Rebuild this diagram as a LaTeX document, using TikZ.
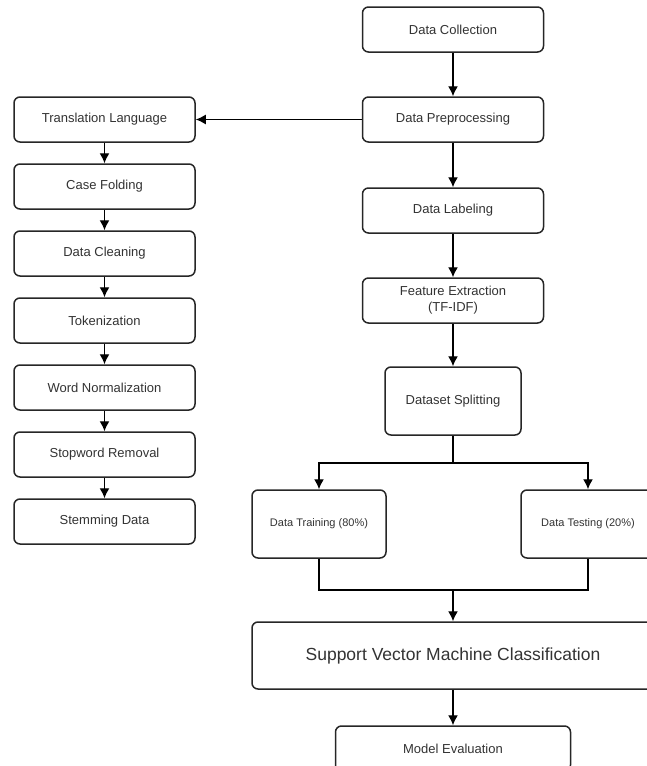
\documentclass[tikz,border=0pt]{standalone}
\usepackage{fontspec}
\setmainfont{Liberation Sans}
\usepackage{tikz}
\usetikzlibrary{arrows.meta, positioning}

\begin{document}
\begin{tikzpicture}[
  x=1pt, y=-1pt,
  every node/.style={font=\fontsize{13}{16}\selectfont, text=black!80},
  stage/.style={rectangle, draw=black!85, line width=1.5pt, rounded corners=6pt, minimum width=181pt, minimum height=45pt, align=center, fill=white},
  split/.style={stage, minimum width=136pt, minimum height=68pt},
  part/.style={stage, minimum width=134pt, minimum height=68pt, font=\fontsize{11}{13}\selectfont},
  arrow/.style={-{Latex[length=10pt,width=10pt]}, line width=1.4pt},
  link/.style={line width=1.4pt}
]
\useasboundingbox (0,0) rectangle (646,766);

% Main column
\node[stage] (collect) at (453,29.5) {Data Collection};
\node[stage, below=43.5pt of collect] (prep) {Data Preprocessing};
\node[stage, below=44.5pt of prep] (label) {Data Labeling};
\node[stage, below=43.5pt of label] (feat) {Feature Extraction\\(TF-IDF)};
\node[split, below=42.5pt of feat] (dsplit) {Dataset Splitting};

% Training and testing
\node[part] (train) at (319,524) {Data Training (80\%)};
\node[part] (test) at (588,524) {Data Testing (20\%)};

% Classification and evaluation
\node[stage, minimum width=402pt, minimum height=67pt, font=\fontsize{17.5}{20}\selectfont] (svm) at (453,655.5) {Support Vector Machine Classification};
\node[stage, minimum width=235pt] (eval) at (453,748.5) {Model Evaluation};

% Preprocessing steps (left column)
\node[stage] (trans) at (104.5,119.5) {Translation Language};
\node[stage, below=20.5pt of trans] (fold) {Case Folding};
\node[stage, below=20.5pt of fold] (clean) {Data Cleaning};
\node[stage, below=20.5pt of clean] (token) {Tokenization};
\node[stage, below=20.5pt of token] (norm) {Word Normalization};
\node[stage, below=20.5pt of norm] (stop) {Stopword Removal};
\node[stage, below=20.5pt of stop] (stem) {Stemming Data};

\coordinate (fork) at (453,463);
\coordinate (join) at (453,590);

% Arrows
\draw[arrow] (collect) -- (prep);
\draw[arrow] (prep) -- (trans);
\draw[arrow] (prep) -- (label);
\draw[arrow] (label) -- (feat);
\draw[arrow] (feat) -- (dsplit);
\draw[link] (dsplit) -- (fork);
\draw[arrow] (fork) -| (train);
\draw[arrow] (fork) -| (test);
\draw[link] (train) |- (join);
\draw[link] (test) |- (join);
\draw[arrow] (join) -- (svm);
\draw[arrow] (svm) -- (eval);

\draw[arrow] (trans) -- (fold);
\draw[arrow] (fold) -- (clean);
\draw[arrow] (clean) -- (token);
\draw[arrow] (token) -- (norm);
\draw[arrow] (norm) -- (stop);
\draw[arrow] (stop) -- (stem);

\end{tikzpicture}
\end{document}
